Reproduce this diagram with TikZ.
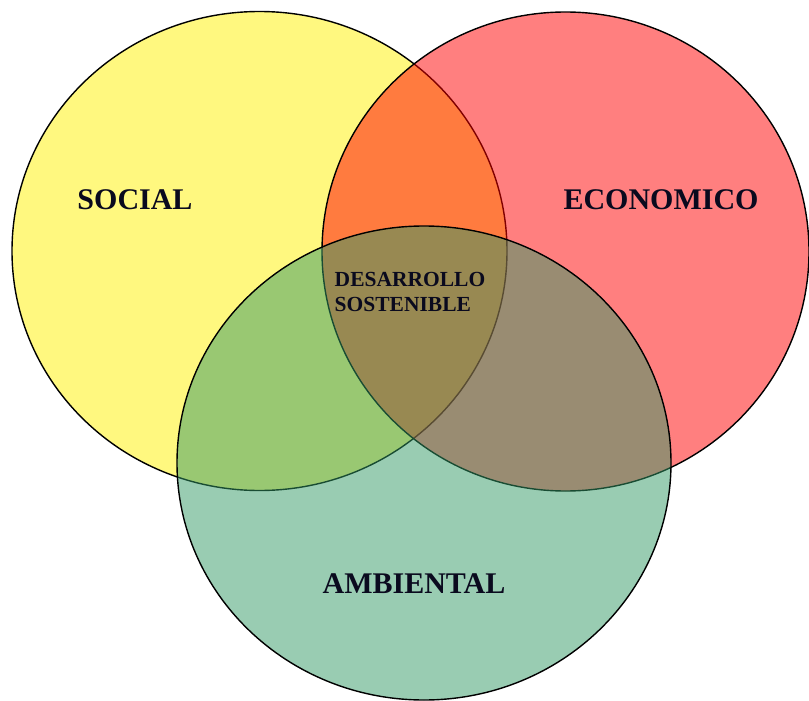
\documentclass[tikz,border=0pt]{standalone}
\usepackage{fontspec}
\setmainfont{Liberation Serif}
\usetikzlibrary{shapes}

\definecolor{ambfill}{RGB}{51,153,102}
\definecolor{inktext}{RGB}{10,10,30}

\begin{document}
\begin{tikzpicture}[x=1pt,y=-1pt]

	\tikzstyle{area} = [ellipse, draw=black, line width=1.4pt, fill opacity=0.5, inner sep=0pt]
	\tikzstyle{lab}  = [font=\fontsize{30}{36}\selectfont\bfseries, text=inktext]
	\tikzstyle{core} = [font=\fontsize{21.5}{25}\selectfont\bfseries, text=inktext, align=left, inner sep=0pt]

	\useasboundingbox (0,0) rectangle (809,701);

	\node [area, fill=yellow, minimum width=495pt, minimum height=479pt] (social) at (259.5,251) {};
	\node [area, fill=red, minimum width=487pt, minimum height=479pt] (economico) at (565.5,251.5) {};
	\node [area, fill=ambfill, minimum width=494pt, minimum height=474pt] (ambiental) at (424,463) {};

	\node [lab] (socialtxt) at (135,200) {SOCIAL};
	\node [lab] (economicotxt) at (661,200) {ECONOMICO};
	\node [lab] (ambientaltxt) at (414,584) {AMBIENTAL};
	\node [core] (desarrollo) at (410,292) {DESARROLLO\\SOSTENIBLE};

\end{tikzpicture}
\end{document}
